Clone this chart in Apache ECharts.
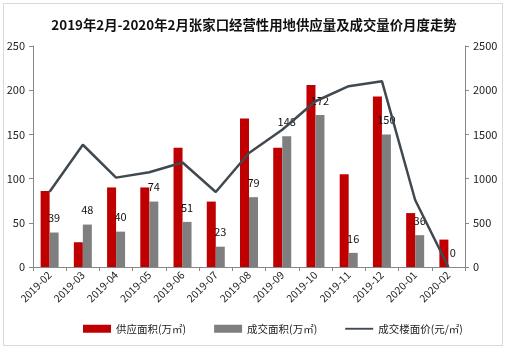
<!DOCTYPE html>
<html>
<head>
<meta charset="utf-8">
<script src="https://cdn.jsdelivr.net/npm/echarts@6/dist/echarts.min.js"></script>
<style>
html,body{margin:0;padding:0;background:#fff;}
.wrap{position:absolute;left:3px;top:3px;width:500px;height:343px;border:1px solid #d9d9d9;box-sizing:border-box;}
#chart{position:absolute;left:0;top:0;width:508px;height:351px;}
</style>
</head>
<body>
<div class="wrap"></div>
<div id="chart"></div>
<script>
const months = ['2019-02','2019-03','2019-04','2019-05','2019-06','2019-07','2019-08','2019-09','2019-10','2019-11','2019-12','2020-01','2020-02'];
const supplyArea = [86, 28, 90, 90, 135, 74, 168, 135, 206, 105, 193, 61, 31];
const dealArea = [39, 48, 40, 74, 51, 23, 79, 148, 172, 16, 150, 36, 0];
const dealPrice = [852, 1383, 1011, 1072, 1182, 849, 1289, 1553, 1875, 2045, 2102, 758, 0];

const chart = echarts.init(document.getElementById('chart'));
const font = '"Noto Sans CJK SC", "Noto Sans", sans-serif';
const option = {
   textStyle: { fontFamily: font },
   title: {
      text: '2019年2月-2020年2月张家口经营性用地供应量及成交量价月度走势',
      left: 'center',
      top: 13,
      textStyle: { fontSize: 13.4, fontWeight: 'bold', color: '#111', fontFamily: font }
   },
   grid: { left: 33, right: 43, top: 46, bottom: 84 },
   legend: {
      bottom: 12,
      left: 78,
      itemGap: 28,
      itemWidth: 28,
      itemHeight: 8,
      textStyle: { fontSize: 10.5, color: '#222' },
      data: [
         { name: '供应面积(万㎡)', icon: 'rect' },
         { name: '成交面积(万㎡)', icon: 'rect' },
         { name: '成交楼面价(元/㎡)', icon: 'path://M0,0h30v2h-30z' }
      ]
   },
   xAxis: {
      type: 'category',
      data: months,
      axisLine: { lineStyle: { color: '#888' } },
      axisTick: { show: true, inside: false, length: 4, lineStyle: { color: '#888' } },
      axisLabel: { rotate: 45, fontSize: 10.5, color: '#222', margin: 6 }
   },
   yAxis: [
      {
         type: 'value', min: 0, max: 250, interval: 50,
         splitLine: { show: false },
         axisLine: { show: true, lineStyle: { color: '#888' } },
         axisTick: { show: true, length: 4, lineStyle: { color: '#888' } },
         axisLabel: { fontSize: 11, color: '#222', margin: 8 }
      },
      {
         type: 'value', min: 0, max: 2500, interval: 500,
         splitLine: { show: false },
         axisLine: { show: true, lineStyle: { color: '#888' } },
         axisTick: { show: true, length: 4, lineStyle: { color: '#888' } },
         axisLabel: { fontSize: 11, color: '#222', margin: 8, formatter: (v) => String(v) }
      }
   ],
   series: [
      {
         name: '供应面积(万㎡)',
         type: 'bar',
         data: supplyArea,
         barWidth: 9,
         barGap: '0%',
         itemStyle: { color: '#c00000' }
      },
      {
         name: '成交面积(万㎡)',
         type: 'bar',
         data: dealArea,
         barWidth: 9,
         itemStyle: { color: '#7f7f7f' },
         label: { show: true, position: 'top', distance: 9, fontSize: 11, color: '#111' }
      },
      {
         name: '成交楼面价(元/㎡)',
         type: 'line',
         yAxisIndex: 1,
         data: dealPrice,
         symbol: 'none',
         lineStyle: { color: '#404850', width: 2.5 },
         itemStyle: { color: '#404850' }
      }
   ]
};
chart.setOption(option);
</script>
</body>
</html>
